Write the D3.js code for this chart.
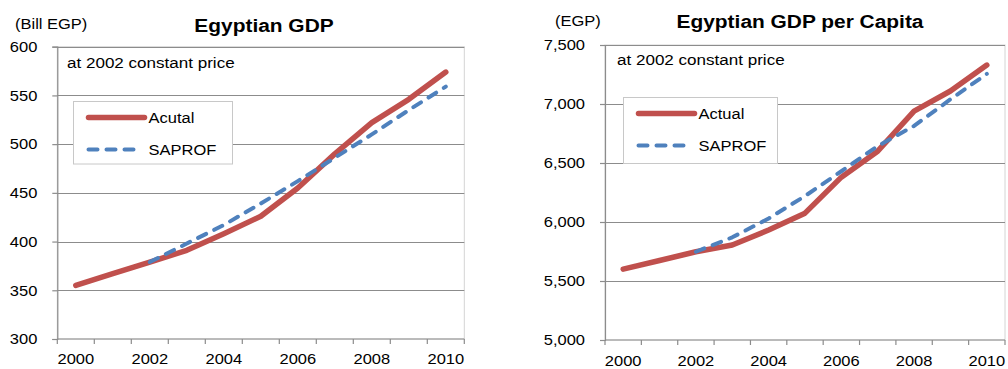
<!DOCTYPE html>
<html>
<head>
<meta charset="utf-8">
<script src="https://cdn.jsdelivr.net/npm/d3@7"></script>
<style>
  body { margin: 0; background: #fff; }
  svg { display: block; }
  text { font-family: "Liberation Sans", Arial, sans-serif; fill: #000; }
</style>
</head>
<body>
<svg id="chart" width="1008" height="369"></svg>
<script>
// Categories (years) and the subset that carries a label on the x axis
const years = ["2000", "2001", "2002", "2003", "2004", "2005", "2006", "2007", "2008", "2009", "2010"];
const labelYears = ["2000", "2002", "2004", "2006", "2008", "2010"];

// Egyptian GDP, billion EGP at 2002 constant prices
const gdpActual = [355, 367, 379, 391, 408, 426, 455, 490, 522, 546, 574];
const gdpSaprof = [null, null, 379, 398, 417, 439, 462, 486, 510, 535, 559];
const gdpTicks = [300, 350, 400, 450, 500, 550, 600];

// Egyptian GDP per capita, EGP at 2002 constant prices
const pcActual = [5600, 5674, 5748, 5805, 5932, 6075, 6380, 6600, 6940, 7110, 7330];
const pcSaprof = [null, null, 5748, 5870, 6030, 6220, 6430, 6644, 6814, 7040, 7255];
const pcTicks = [5000, 5500, 6000, 6500, 7000, 7500];

const RED = "#C0504D";
const BLUE = "#4F81BD";
const GRID = "#8C8C8C";
const BORDER = "#D4D4D4";
const STRETCH = 1.1; // text is drawn slightly wide

const svg = d3.select("#chart");

function label(g, x, y, s, opts = {}) {
  return g.append("text")
    .attr("transform", `translate(${x},${y}) scale(${STRETCH},1)`)
    .attr("text-anchor", opts.anchor || "start")
    .attr("dy", opts.dy || null)
    .style("font-size", (opts.size || 15) + "px")
    .style("font-weight", opts.weight || "normal")
    .text(s);
}

function drawChart(cfg) {
  const g = svg.append("g");
  const x = d3.scaleBand().domain(years).range([cfg.left, cfg.right]);
  const y = d3.scaleLinear().domain([cfg.ticks[0], cfg.ticks[cfg.ticks.length - 1]])
    .range([cfg.bottom, cfg.top]);
  const cx = d => x(d) + x.bandwidth() / 2;

  // plot area frame
  g.append("rect")
    .attr("x", cfg.left).attr("y", y.range()[1])
    .attr("width", cfg.right - cfg.left).attr("height", y.range()[0] - y.range()[1])
    .attr("fill", "#fff").attr("stroke", BORDER).attr("stroke-width", 1);

  // horizontal gridlines
  g.selectAll(".grid").data(cfg.ticks.slice(1)).join("line")
    .attr("x1", cfg.left).attr("x2", cfg.right)
    .attr("y1", d => Math.round(y(d)) + 0.5).attr("y2", d => Math.round(y(d)) + 0.5)
    .attr("stroke", GRID).attr("stroke-width", 1.2);

  // y axis
  const yAxis = d3.axisLeft(y).tickValues(cfg.ticks).tickSize(5).tickPadding(15)
    .tickFormat(cfg.format);
  const ya = g.append("g").attr("transform", `translate(${cfg.left},0)`).call(yAxis);
  ya.selectAll("path,line").attr("stroke", GRID).attr("stroke-width", 1.2);
  ya.selectAll("text").remove();
  cfg.ticks.forEach(t => label(g, cfg.left - 20, y(t), cfg.format(t), { anchor: "end", dy: "0.35em" }));

  // x axis: tick marks on band edges, labels on every other band centre
  const xa = g.append("g").attr("transform", `translate(0,${cfg.bottom})`);
  xa.append("line").attr("x1", cfg.left).attr("x2", cfg.right)
    .attr("stroke", GRID).attr("stroke-width", 1.2);
  const edges = years.map(d => x(d)).concat([x.range()[1]]);
  xa.selectAll(".tick").data(edges).join("line")
    .attr("x1", d => d).attr("x2", d => d).attr("y1", 0).attr("y2", 5)
    .attr("stroke", GRID).attr("stroke-width", 1.2);
  labelYears.forEach(d => label(g, cx(d), cfg.xLabelY, d, { anchor: "middle" }));

  // series
  const line = d3.line()
    .defined(d => d.v != null)
    .x(d => cx(d.year))
    .y(d => y(d.v));
  const rows = vals => years.map((year, i) => ({ year, v: vals[i] }));

  g.append("path").datum(rows(cfg.actual)).attr("d", line)
    .attr("fill", "none").attr("stroke", RED).attr("stroke-width", 5.5)
    .attr("stroke-linecap", "round").attr("stroke-linejoin", "round");
  g.append("path").datum(rows(cfg.saprof)).attr("d", line)
    .attr("fill", "none").attr("stroke", BLUE).attr("stroke-width", 4)
    .attr("stroke-dasharray", "9,9")
    .attr("stroke-linecap", "round").attr("stroke-linejoin", "round");

  // titles and notes
  label(g, cfg.titleX, cfg.titleY, cfg.title, { anchor: "middle", size: 19, weight: "bold" });
  label(g, cfg.unitX, cfg.unitY, cfg.unit, {});
  label(g, cfg.noteX, cfg.noteY, "at 2002 constant price", { size: 15.5 });

  // legend
  const L = cfg.legend;
  g.append("rect").attr("x", L.x).attr("y", L.y).attr("width", L.w).attr("height", L.h)
    .attr("fill", "#fff").attr("stroke", "#C8C8C8").attr("stroke-width", 1);
  g.append("line").attr("x1", L.x + 15).attr("x2", L.x + 71)
    .attr("y1", L.y + 16).attr("y2", L.y + 16)
    .attr("stroke", RED).attr("stroke-width", 5.5).attr("stroke-linecap", "round");
  g.append("line").attr("x1", L.x + 15).attr("x2", L.x + 62)
    .attr("y1", L.y + 48).attr("y2", L.y + 48)
    .attr("stroke", BLUE).attr("stroke-width", 4).attr("stroke-dasharray", "9,9")
    .attr("stroke-linecap", "round");
  label(g, L.x + 75, L.y + 21, cfg.actualName, {});
  label(g, L.x + 75, L.y + 53, "SAPROF", {});
}

drawChart({
  left: 57.3, right: 464.3, top: 46.7, bottom: 339,
  ticks: gdpTicks, format: d3.format("d"),
  actual: gdpActual, saprof: gdpSaprof, actualName: "Acutal",
  title: "Egyptian GDP", titleX: 264, titleY: 31.5,
  unit: "(Bill EGP)", unitX: 15, unitY: 29,
  noteX: 67, noteY: 68,
  xLabelY: 364,
  legend: { x: 73.5, y: 101.5, w: 159, h: 62.5 }
});

drawChart({
  left: 605, right: 1005, top: 45, bottom: 340,
  ticks: pcTicks, format: d3.format(","),
  actual: pcActual, saprof: pcSaprof, actualName: "Actual",
  title: "Egyptian GDP per Capita", titleX: 800, titleY: 28,
  unit: "(EGP)", unitX: 555, unitY: 26,
  noteX: 617, noteY: 65,
  xLabelY: 366,
  legend: { x: 623.5, y: 97.5, w: 154, h: 66 }
});
</script>
</body>
</html>
